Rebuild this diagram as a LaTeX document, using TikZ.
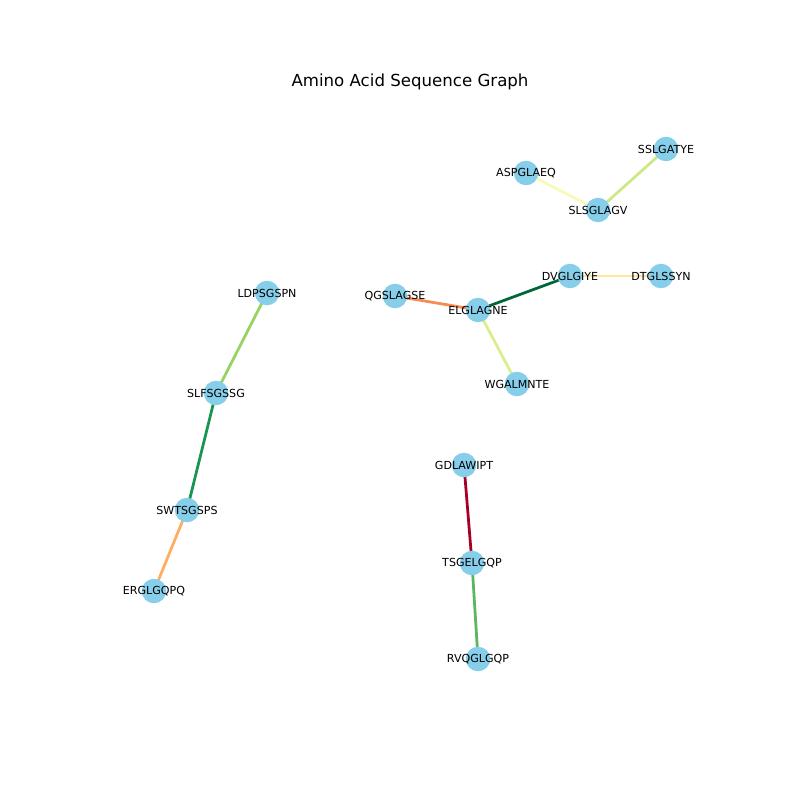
\documentclass[tikz,border=0pt]{standalone}
\usepackage{fontspec}
\setmainfont{DejaVu Sans}
\usetikzlibrary{backgrounds}
\definecolor{nodeblue}{RGB}{135,206,235}
\definecolor{eA}{RGB}{248,250,184}
\definecolor{eB}{RGB}{205,233,133}
\definecolor{eC}{RGB}{254,232,154}
\definecolor{eD}{RGB}{246,139,84}
\definecolor{eE}{RGB}{0,104,55}
\definecolor{eF}{RGB}{217,239,139}
\definecolor{eG}{RGB}{150,210,100}
\definecolor{eH}{RGB}{24,150,80}
\definecolor{eI}{RGB}{253,174,97}
\definecolor{eJ}{RGB}{165,0,38}
\definecolor{eK}{RGB}{90,183,95}
\begin{document}
\begin{tikzpicture}[x=0.01in, y=-0.01in,
	 seqnode/.style={circle, fill=nodeblue, inner sep=0pt, minimum size=0.245in},
	 seqlabel/.style={font=\fontsize{8}{9.6}\selectfont, inner sep=0pt, text=black},
	 link/.style={line width=2pt}]
	    \useasboundingbox (0,0) rectangle (800,800);
	    \node (title) at (410,82) {\fontsize{12}{14}\selectfont Amino Acid Sequence Graph};
	    % nodes
	    \node (aspglaeq) at (526,173) [seqnode, label={[seqlabel]center:ASPGLAEQ}] {};
	    \node (slsglagv) at (598,210) [seqnode, label={[seqlabel]center:SLSGLAGV}] {};
	    \node (sslgatye) at (666,149) [seqnode, label={[seqlabel]center:SSLGATYE}] {};
	    \node (dvglgiye) at (570,276) [seqnode, label={[seqlabel]center:DVGLGIYE}] {};
	    \node (dtglssyn) at (661,276) [seqnode, label={[seqlabel]center:DTGLSSYN}] {};
	    \node (qgslagse) at (395,296) [seqnode, label={[seqlabel]center:QGSLAGSE}] {};
	    \node (elglagne) at (478,310) [seqnode, label={[seqlabel]center:ELGLAGNE}] {};
	    \node (wgalmnte) at (517,384) [seqnode, label={[seqlabel]center:WGALMNTE}] {};
	    \node (ldpsgspn) at (267,293) [seqnode, label={[seqlabel]center:LDPSGSPN}] {};
	    \node (slfsgssg) at (216,393) [seqnode, label={[seqlabel]center:SLFSGSSG}] {};
	    \node (swtsgsps) at (187,510) [seqnode, label={[seqlabel]center:SWTSGSPS}] {};
	    \node (erglgqpq) at (154,591) [seqnode, label={[seqlabel]center:ERGLGQPQ}] {};
	    \node (gdlawipt) at (464,465) [seqnode, label={[seqlabel]center:GDLAWIPT}] {};
	    \node (tsgelgqp) at (472,563) [seqnode, label={[seqlabel]center:TSGELGQP}] {};
	    \node (rvqglgqp) at (478,659) [seqnode, label={[seqlabel]center:RVQGLGQP}] {};
	    % edges
	    \begin{scope}[on background layer]
	        \draw[link, eA] (aspglaeq.center) -- (slsglagv.center);
	        \draw[link, eB] (slsglagv.center) -- (sslgatye.center);
	        \draw[link, eC] (dvglgiye.center) -- (dtglssyn.center);
	        \draw[link, eD] (qgslagse.center) -- (elglagne.center);
	        \draw[link, eE] (elglagne.center) -- (dvglgiye.center);
	        \draw[link, eF] (elglagne.center) -- (wgalmnte.center);
	        \draw[link, eG] (ldpsgspn.center) -- (slfsgssg.center);
	        \draw[link, eH] (slfsgssg.center) -- (swtsgsps.center);
	        \draw[link, eI] (swtsgsps.center) -- (erglgqpq.center);
	        \draw[link, eJ] (gdlawipt.center) -- (tsgelgqp.center);
	        \draw[link, eK] (tsgelgqp.center) -- (rvqglgqp.center);
	    \end{scope}
\end{tikzpicture}
\end{document}
